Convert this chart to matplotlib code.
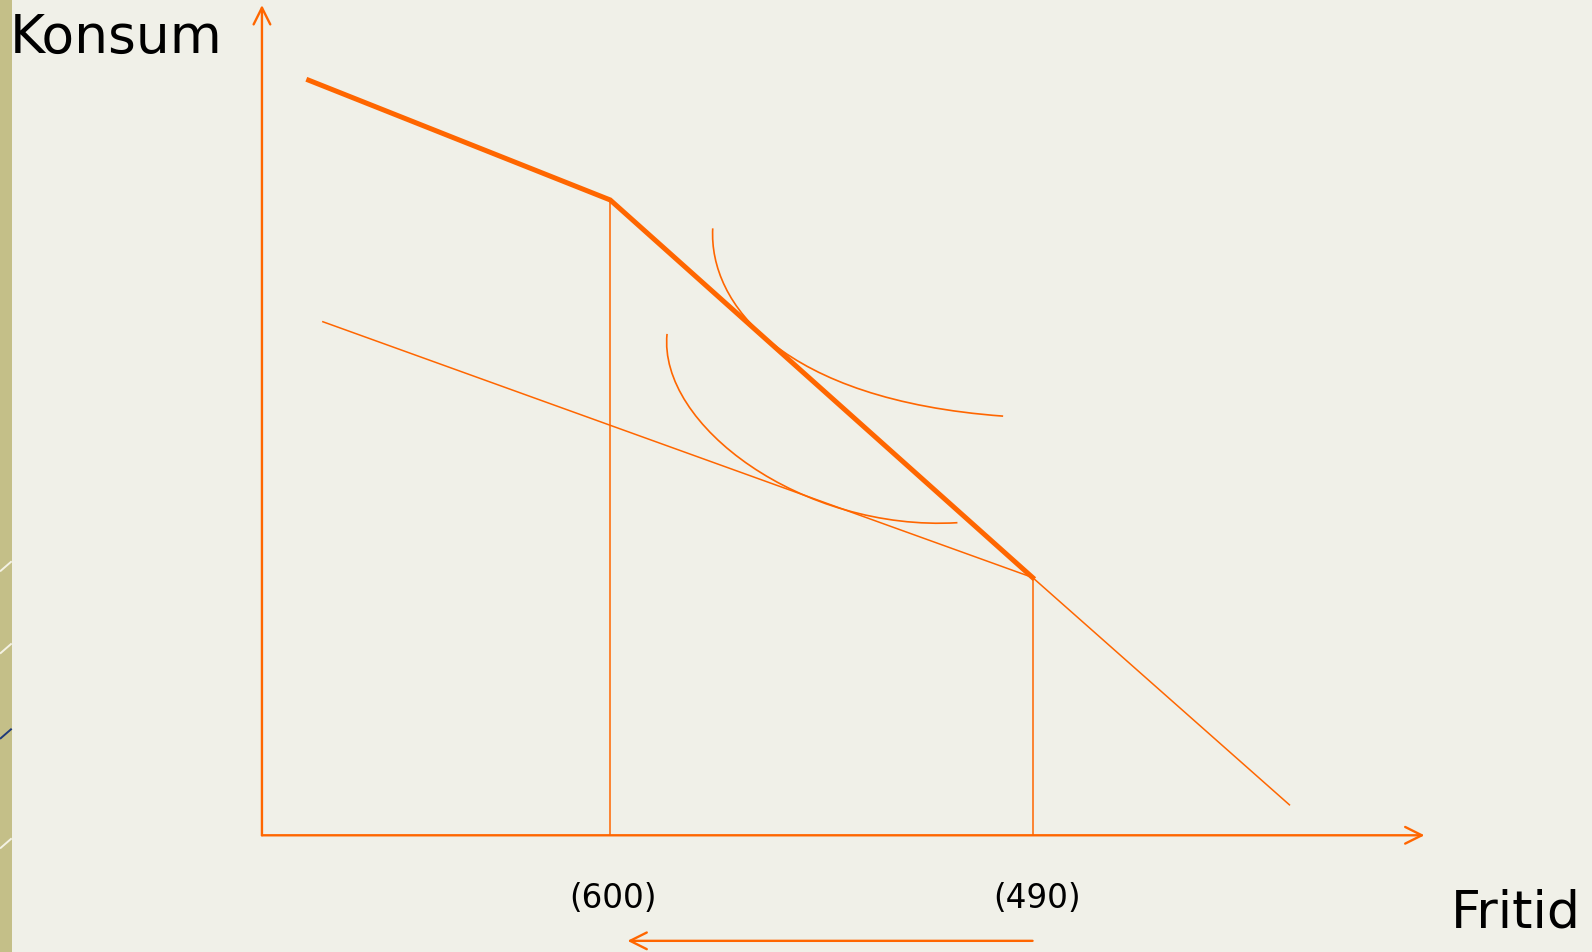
"""Konsum/Fritid-Diagramm mit Budgetgeraden und Indifferenzkurven"""
import matplotlib.pyplot as plt
from matplotlib.path import Path
from matplotlib.patches import PathPatch, Rectangle

ORANGE = "#FF6600"
BG = "#F0F0E8"

# Koordinaten im Bildraster (x nach rechts, y nach unten)
origin = (258, 824)
y_axis_top = (258, 6)
x_axis_end = (1403, 824)

kinked_budget_x = [304, 601, 1017]
kinked_budget_y = [80, 198, 570]
steep_tail_x = [1017, 1270]
steep_tail_y = [570, 794]
flat_budget_x = [318, 1017]
flat_budget_y = [318, 570]

drop_x = [601, 1017]
drop_top = [198, 570]

# Indifferenzkurven als kubische Bezier-Kontrollpunkte
upper_curve = [(702, 226), (698, 300), (770, 395), (988, 411)]
lower_curve = [(657, 330), (648, 420), (790, 525), (943, 516)]

tick_labels = ["(600)", "(490)"]
tick_label_x = [604, 1021]

shift_arrow_from = (1017, 928)
shift_arrow_to = (618, 928)

fig = plt.figure(figsize=(15.92, 9.53), dpi=100)
fig.patch.set_facecolor(BG)
ax = fig.add_axes([0, 0, 1, 1])
ax.set_xlim(0, 1568)
ax.set_ylim(939, 0)
ax.axis("off")

# linker Folienrand
ax.add_patch(Rectangle((0, 0), 11.8, 939, facecolor="#C4BF88", edgecolor="none"))
for y0, col in [(554, "#F4F2E4"), (635, "#F4F2E4"), (719, "#1F3A7A"), (827, "#F4F2E4")]:
    ax.plot([0, 11.5], [y0 + 10, y0], color=col, lw=1.4, solid_capstyle="butt")

arrow_kw = dict(arrowstyle="->,head_length=1.2,head_width=0.6", color=ORANGE,
                lw=1.7, shrinkA=0, shrinkB=0)
ax.annotate("", xy=y_axis_top, xytext=origin, arrowprops=arrow_kw)
ax.annotate("", xy=x_axis_end, xytext=origin, arrowprops=arrow_kw)
ax.annotate("", xy=shift_arrow_to, xytext=shift_arrow_from, arrowprops=arrow_kw)

ax.plot(kinked_budget_x, kinked_budget_y, color=ORANGE, lw=3.6, solid_joinstyle="miter")
ax.plot(steep_tail_x, steep_tail_y, color=ORANGE, lw=1.1)
ax.plot(flat_budget_x, flat_budget_y, color=ORANGE, lw=1.1)
for x, top in zip(drop_x, drop_top):
    ax.plot([x, x], [top, origin[1]], color=ORANGE, lw=1.1)

codes = [Path.MOVETO, Path.CURVE4, Path.CURVE4, Path.CURVE4]
for pts in (upper_curve, lower_curve):
    ax.add_patch(PathPatch(Path(pts, codes), facecolor="none", edgecolor=ORANGE, lw=1.2))

for lab, x in zip(tick_labels, tick_label_x):
    ax.text(x, 885, lab, fontsize=23.5, ha="center", va="center", color="black")

ax.text(10, 52, "Konsum", fontsize=38.5, ha="left", va="baseline", color="black")
ax.text(1557, 914, "Fritid", fontsize=37.5, ha="right", va="baseline", color="black")

fig.savefig("out.png", dpi=100, facecolor=BG)
